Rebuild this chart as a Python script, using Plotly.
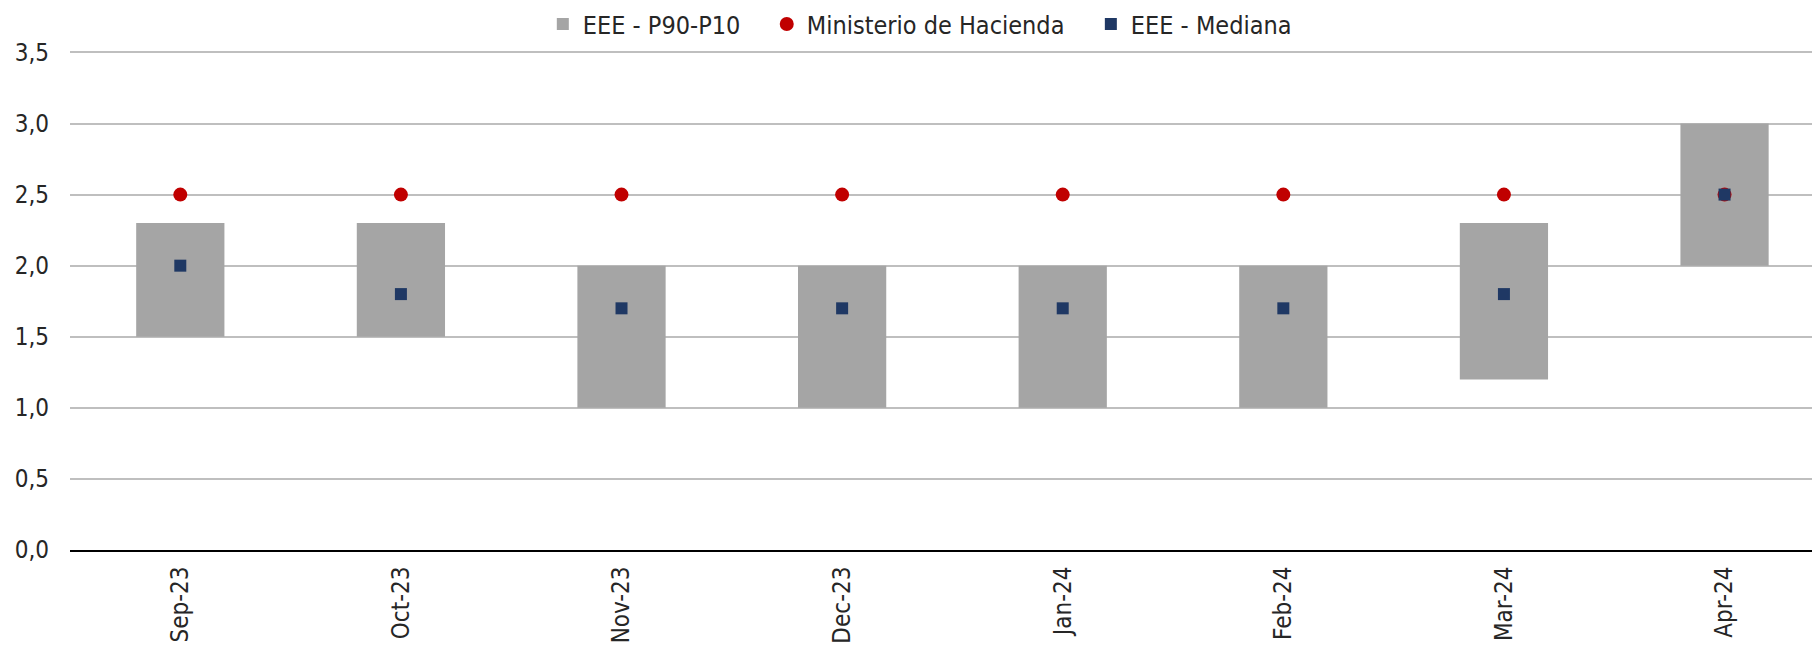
import plotly.graph_objects as go

months = ["Sep-23", "Oct-23", "Nov-23", "Dec-23", "Jan-24", "Feb-24", "Mar-24", "Apr-24"]
p10 = [1.5, 1.5, 1.0, 1.0, 1.0, 1.0, 1.2, 2.0]
p90 = [2.3, 2.3, 2.0, 2.0, 2.0, 2.0, 2.3, 3.0]
mediana = [2.0, 1.8, 1.7, 1.7, 1.7, 1.7, 1.8, 2.5]
hacienda = [2.5, 2.5, 2.5, 2.5, 2.5, 2.5, 2.5, 2.5]

FONT = "Liberation Sans Narrow, DejaVu Sans Condensed, sans-serif"
TXT = "#262626"
SP = "\u00a0" * 3

idx = list(range(len(months)))
fig = go.Figure()
fig.add_trace(go.Bar(
    x=idx, y=[h - l for h, l in zip(p90, p10)], base=p10,
    name="EEE - P90-P10" + SP, marker=dict(color="#A5A5A5", line=dict(width=0)),
    width=0.40,
))
fig.add_trace(go.Scatter(
    x=idx, y=hacienda, mode="markers", name="Ministerio de Hacienda" + SP,
    marker=dict(symbol="circle", size=14, color="#C00000"),
))
fig.add_trace(go.Scatter(
    x=idx, y=mediana, mode="markers", name="EEE - Mediana",
    marker=dict(symbol="square", size=12, color="#1F3864"),
))

fig.update_layout(
    width=1820, height=650,
    margin=dict(l=62, r=0, t=43, b=108, autoexpand=False),
    plot_bgcolor="white", paper_bgcolor="white",
    separators=",.",
    font=dict(family=FONT, size=24, color=TXT),
    showlegend=True,
    legend=dict(orientation="h", x=0.501, xanchor="center", xref="container",
                y=0.975, yanchor="middle", yref="container",
                font=dict(size=25, color=TXT), itemwidth=30, traceorder="normal",
                bgcolor="rgba(0,0,0,0)"),
    xaxis=dict(
        tickmode="array", tickvals=idx, ticktext=months,
        range=[-0.5, 7.469], tickangle=-90, showgrid=False,
        showline=True, linecolor="#000000", linewidth=2,
        ticks="", ticklabelstandoff=5, tickfont=dict(size=24, color=TXT),
        zeroline=False, automargin=False,
    ),
    yaxis=dict(
        range=[0, 3.51], dtick=0.5, tickformat=".1f",
        showgrid=True, gridcolor="#BFBFBF", gridwidth=1.5,
        zeroline=False, showline=False, ticks="",
        ticklabelstandoff=20, tickfont=dict(size=24, color=TXT),
        automargin=False,
    ),
)
fig.write_html("out.html")
